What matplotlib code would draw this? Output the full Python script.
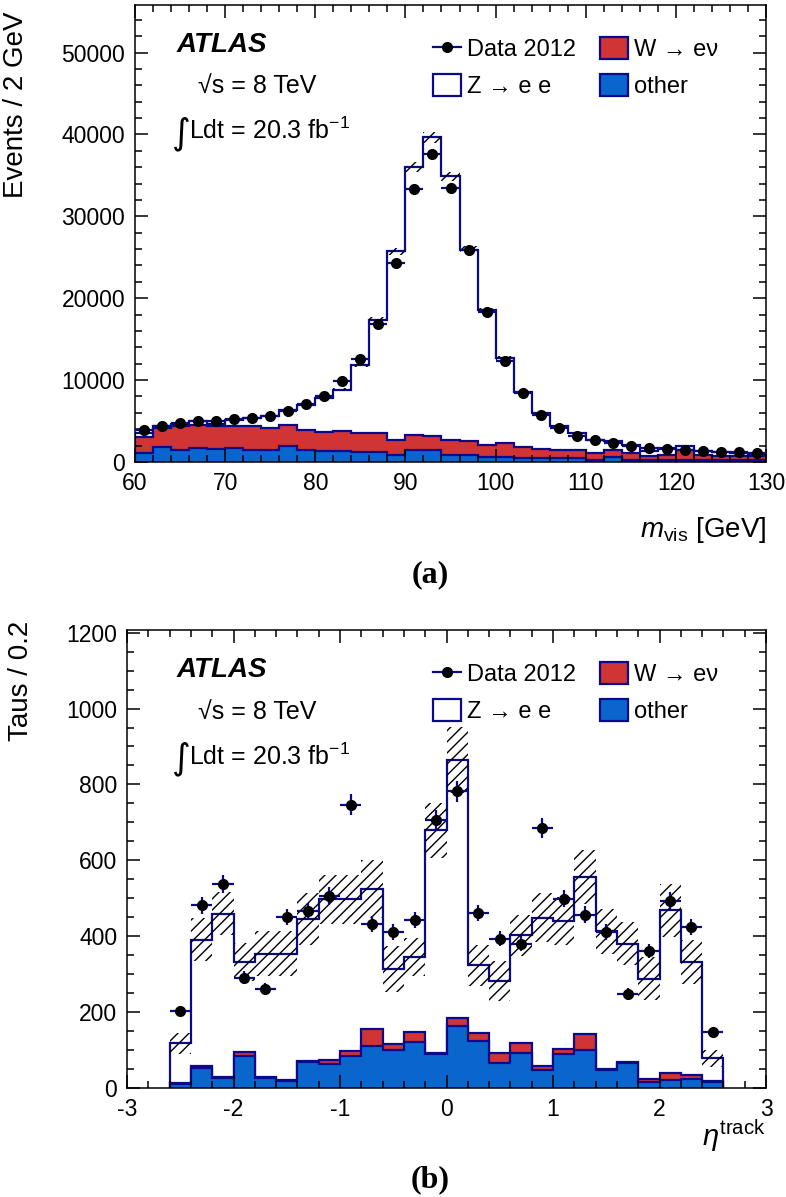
import numpy as np
import matplotlib.pyplot as plt
from matplotlib.lines import Line2D
from matplotlib.patches import Patch
from matplotlib.ticker import MultipleLocator

plt.rcParams['font.family'] = ['Liberation Sans', 'DejaVu Sans']
plt.rcParams['mathtext.fontset'] = 'custom'
plt.rcParams['mathtext.rm'] = 'Liberation Sans'
plt.rcParams['mathtext.it'] = 'Liberation Sans:italic'
plt.rcParams['mathtext.bf'] = 'Liberation Sans:bold'
plt.rcParams['axes.unicode_minus'] = False
plt.rcParams['hatch.linewidth'] = 1.0

NAVY = '#0a0a8a'
RED = '#d03434'
BLUE = '#0a66cc'

# (a) visible mass, 2 GeV bins 60-130
mvis_edges = np.arange(60, 131, 2)
mvis_data = [3960, 4370, 4780, 4980, 5060, 5260, 5380, 5670, 6200, 7130,
             8110, 9860, 12580, 16890, 24290, 33310, 37580, 33430, 25900, 18270,
             12300, 8430, 5710, 4170, 3230, 2660, 2260, 1930, 1650, 1610,
             1440, 1320, 1240, 1200, 1120]
mvis_total = [3600, 4400, 4600, 5000, 4700, 5180, 5390, 5590, 6300, 7000,
              7800, 8840, 11890, 17380, 25710, 36070, 39660, 34860, 25900, 18520,
              12700, 8520, 6000, 4450, 3560, 2740, 2540, 2130, 1400, 1730,
              1930, 1320, 1200, 1120, 950]
mvis_w_other = [3070, 4170, 4370, 4570, 4370, 4450, 4450, 4170, 4570, 3960,
                3640, 3760, 3560, 3480, 2740, 3350, 3150, 2650, 2540, 2130,
                2330, 1850, 1610, 1520, 1440, 1120, 1440, 1120, 790, 915,
                1440, 915, 710, 790, 710]
mvis_other = [1120, 1850, 1520, 1730, 1610, 1730, 1520, 1440, 1930, 1440,
              1320, 1320, 1200, 1200, 915, 1440, 1520, 850, 900, 630,
              630, 510, 430, 430, 430, 300, 630, 300, 300, 300,
              300, 250, 250, 250, 250]
mvis_unc = [80, 90, 90, 100, 100, 100, 110, 110, 120, 140,
            150, 180, 230, 330, 480, 600, 650, 580, 450, 330,
            230, 160, 110, 90, 70, 60, 50, 45, 35, 35,
            40, 30, 30, 25, 25]

# (b) track eta, 0.2 bins -2.6..2.6
eta_edges = np.round(np.arange(-2.6, 2.61, 0.2), 1)
eta_data = [203, 481, 537, 290, 260, 450, 466, 506, 747, 433, 411, 442, 705,
            782, 461, 393, 380, 686, 499, 457, 411, 248, 361, 494, 424, 147]
eta_total = [118, 391, 459, 333, 354, 354, 446, 497, 497, 525, 314, 345, 679,
             865, 323, 283, 402, 449, 440, 556, 413, 380, 288, 468, 332, 78]
eta_w_other = [12, 57, 30, 96, 30, 20, 72, 74, 98, 155, 117, 147, 92,
               185, 145, 92, 118, 58, 102, 142, 50, 68, 24, 40, 33, 18]
eta_other = [10, 53, 27, 84, 27, 18, 68, 64, 84, 112, 100, 120, 90,
             163, 123, 66, 92, 48, 90, 100, 48, 65, 17, 22, 24, 15]
eta_unc = [28, 57, 57, 50, 59, 59, 68, 64, 64, 77, 61, 50, 72,
           87, 53, 53, 53, 64, 64, 70, 59, 57, 57, 70, 57, 22]

W, H = 786, 1197


def draw_panel(ax, box, edges, data, total, w_other, other, unc):
    left, top, right, bottom = box
    fx = lambda px: (px - left) / (right - left)

    edges = np.asarray(edges, dtype=float)
    centers = (edges[:-1] + edges[1:]) / 2
    width = np.diff(edges)
    total = np.asarray(total, dtype=float)
    unc = np.asarray(unc, dtype=float)
    data = np.asarray(data, dtype=float)
    ax.stairs(total, edges, baseline=0, fill=True, facecolor='white', edgecolor=NAVY, linewidth=1.6)
    ax.stairs(w_other, edges, baseline=0, fill=True, facecolor=RED, edgecolor=NAVY, linewidth=1.6)
    ax.stairs(other, edges, baseline=0, fill=True, facecolor=BLUE, edgecolor=NAVY, linewidth=1.6)
    ax.bar(centers, 2 * unc, bottom=total - unc, width=width, fill=False,
           hatch='///', edgecolor='black', linewidth=0)
    ax.errorbar(centers, data, xerr=width / 2, yerr=np.sqrt(data), fmt='o',
                color='black', ecolor=NAVY, ms=7, elinewidth=1.6, capsize=0, zorder=3)

    ax.tick_params(which='both', direction='in', top=True, right=True, labelsize=16.5, width=1.1)
    ax.tick_params(which='major', length=9.5, pad=7)
    ax.tick_params(which='minor', length=5)
    for s in ax.spines.values():
        s.set_linewidth(1.1)

    handles = [Line2D([], [], color=NAVY, marker='o', mfc='black', mec='black', ms=7, lw=1.6),
               Patch(facecolor='white', edgecolor=NAVY, linewidth=1.6),
               Patch(facecolor=RED, edgecolor=NAVY, linewidth=1.6),
               Patch(facecolor=BLUE, edgecolor=NAVY, linewidth=1.6)]
    labels = ['Data 2012', 'Z \u2192 e e', 'W \u2192 e\u03bd', 'other']
    ax.legend(handles, labels, loc='upper left', bbox_to_anchor=(fx(433), 0.93),
              ncol=2, frameon=False, fontsize=17, handlelength=1.2, handleheight=1.06,
              handletextpad=0.25, columnspacing=1.0, labelspacing=0.55,
              borderpad=0, borderaxespad=0)

    ax.text(fx(177), 0.912, 'ATLAS', transform=ax.transAxes, fontsize=20,
            fontweight='bold', fontstyle='italic', va='center')
    ax.text(fx(198), 0.822, '\u221as = 8 TeV', transform=ax.transAxes, fontsize=18, va='center')
    ax.text(fx(172), 0.718, '\u222b', transform=ax.transAxes, fontsize=26,
            family='DejaVu Sans', va='center')
    ax.text(fx(189), 0.724, r'Ldt = 20.3 fb$^{\mathregular{-1}}$', transform=ax.transAxes,
            fontsize=18, va='center')


fig = plt.figure(figsize=(W / 100, H / 100), dpi=100)

box1 = (135, 5, 766, 462)
ax1 = fig.add_axes([box1[0] / W, 1 - box1[3] / H, (box1[2] - box1[0]) / W, (box1[3] - box1[1]) / H])
draw_panel(ax1, box1, mvis_edges, mvis_data, mvis_total, mvis_w_other, mvis_other, mvis_unc)
ax1.set_xlim(60, 130)
ax1.set_ylim(0, 55800)
ax1.xaxis.set_major_locator(MultipleLocator(10))
ax1.xaxis.set_minor_locator(MultipleLocator(2))
ax1.yaxis.set_major_locator(MultipleLocator(10000))
ax1.yaxis.set_minor_locator(MultipleLocator(2000))
ax1.set_xlabel(r'$m_{\mathrm{vis}}$ [GeV]', fontsize=20, loc='right')
ax1.xaxis.set_label_coords(1.0, -0.115)
ax1.set_ylabel('Events / 2 GeV', fontsize=20, loc='top')
ax1.yaxis.set_label_coords(-(135 - 29) / (766 - 135), 0.985)

box2 = (127, 630, 766, 1088)
ax2 = fig.add_axes([box2[0] / W, 1 - box2[3] / H, (box2[2] - box2[0]) / W, (box2[3] - box2[1]) / H])
draw_panel(ax2, box2, eta_edges, eta_data, eta_total, eta_w_other, eta_other, eta_unc)
ax2.set_xlim(-3, 3)
ax2.set_ylim(0, 1207)
ax2.xaxis.set_major_locator(MultipleLocator(1))
ax2.xaxis.set_minor_locator(MultipleLocator(0.2))
ax2.yaxis.set_major_locator(MultipleLocator(200))
ax2.yaxis.set_minor_locator(MultipleLocator(50))
ax2.set_xlabel(r'$\eta^{\mathrm{track}}$', fontsize=21, loc='right')
ax2.xaxis.set_label_coords(1.0, -0.065)
ax2.set_ylabel('Taus / 0.2', fontsize=20, loc='top')
ax2.yaxis.set_label_coords(-(127 - 34) / (766 - 127), 1.02)

fig.text(430 / W, 1 - 575 / H, '(a)', family='Liberation Serif', fontweight='bold',
         fontsize=23, ha='center', va='center')
fig.text(430 / W, 1 - 1180 / H, '(b)', family='Liberation Serif', fontweight='bold',
         fontsize=23, ha='center', va='center')

fig.savefig('out.png', dpi=100)
